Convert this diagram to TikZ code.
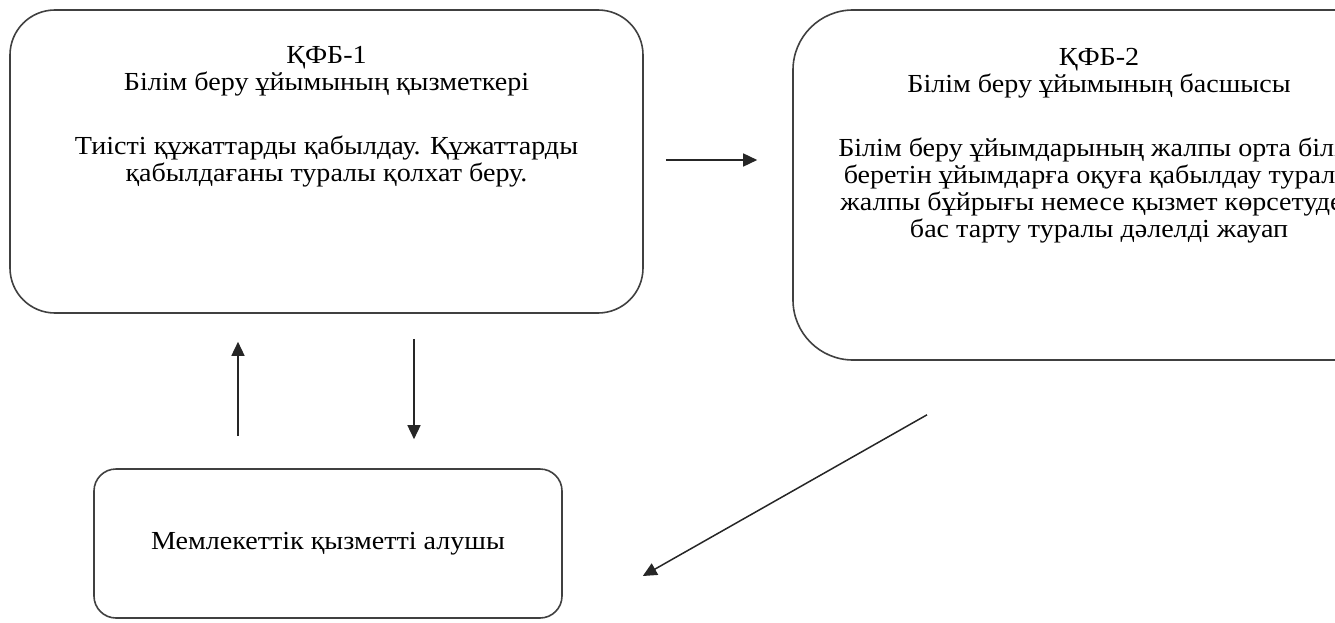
\documentclass[tikz,border=0pt]{standalone}
\usepackage{fontspec}
\setmainfont{Liberation Serif}[FakeStretch=1.08]
\usetikzlibrary{arrows.meta,calc}

\newcommand{\boxtext}[3]{\parbox[c][#1][t]{#2}{\centering #3}}

\begin{document}
\begin{tikzpicture}[x=1pt, y=-1pt, >={Triangle[length=14pt,width=13pt]},
    every node/.style={font=\fontsize{26}{27}\selectfont},
    blockbox/.style={draw=black!75, line width=1.6pt, rectangle, inner sep=0pt},
    flow/.style={->, draw=black!85, line width=1.5pt}]
        \clip (0,0) rectangle (1335,623);
        % nodes
        \node[blockbox, rounded corners=45pt] (KFB1) at (326.5,161.5) {\boxtext{303pt}{633pt}{\rule{0pt}{53pt}ҚФБ-1\\ Білім беру ұйымының қызметкері\\[37pt] Тиісті құжаттарды қабылдау. Құжаттарды\\ қабылдағаны туралы қолхат беру.}};
        \node[blockbox, rounded corners=60pt] (KFB2) at (1099,185) {\boxtext{350pt}{612pt}{\rule{0pt}{55pt}ҚФБ-2\\ Білім беру ұйымының басшысы\\[37pt] Білім беру ұйымдарының жалпы орта білім\\ беретін ұйымдарға оқуға қабылдау туралы\\ жалпы бұйрығы немесе қызмет көрсетуден\\ бас тарту туралы дәлелді жауап}};
        \node[blockbox, rounded corners=22pt, minimum width=468pt, minimum height=149pt] (RECV) at (328,543.5) {Мемлекеттік қызметті алушы};

        % arrows
        \draw[flow] ($(KFB1.east)+(22,-1.5)$) -- ($(KFB1.east -| KFB2.west)+(-35,-1.5)$);
        \draw[flow] ($(RECV.north)+(-90,-32)$) -- ($(KFB1.south)+(-88.5,28)$);
        \draw[flow] ($(KFB1.south)+(87.5,25)$) -- ($(RECV.north)+(86,-29)$);
        \draw[flow] ($(KFB2.south)+(-172,54)$) -- ($(RECV.east)+(80,32.5)$);
    \end{tikzpicture}
\end{document}
